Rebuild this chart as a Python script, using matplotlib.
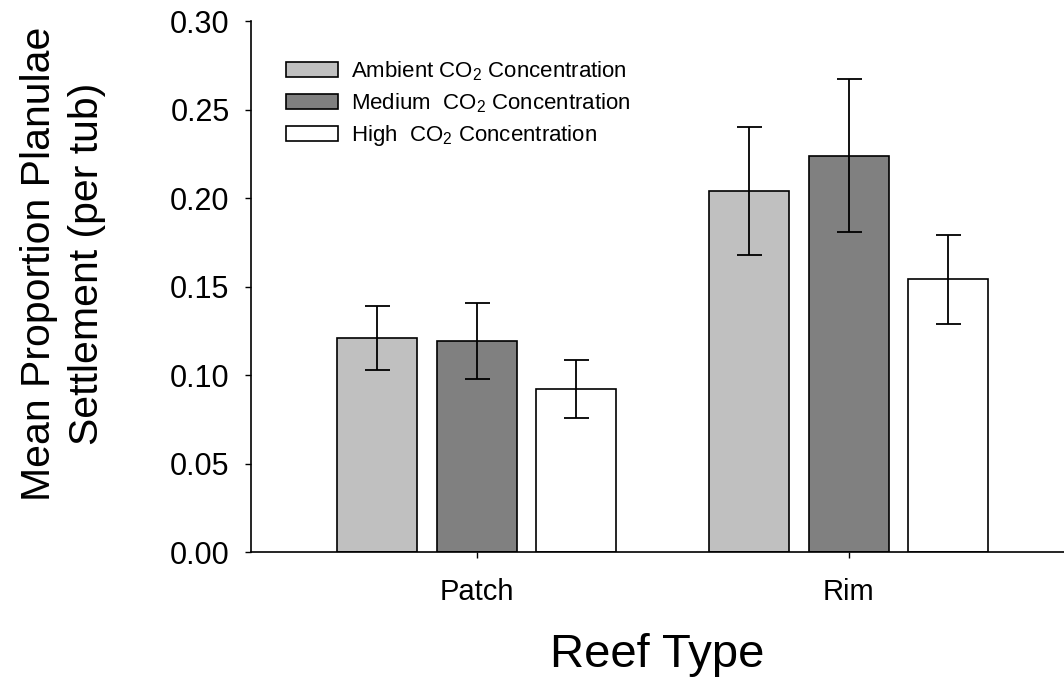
import matplotlib.pyplot as plt
import numpy as np

plt.rcParams['font.family'] = ['Liberation Sans', 'DejaVu Sans']
plt.rcParams['mathtext.fontset'] = 'custom'
plt.rcParams['mathtext.rm'] = 'Liberation Sans'
plt.rcParams['mathtext.default'] = 'regular'

reef_types = ['Patch', 'Rim']
series = ['Ambient CO$_2$ Concentration',
          'Medium  CO$_2$ Concentration',
          'High  CO$_2$ Concentration']
means = {
    'ambient': [0.121, 0.204],
    'medium': [0.119, 0.224],
    'high': [0.092, 0.154],
}
errors = {
    'ambient': [0.018, 0.036],
    'medium': [0.0215, 0.043],
    'high': [0.0163, 0.025],
}
colors = ['#c0c0c0', '#808080', '#ffffff']

fig = plt.figure(figsize=(10.64, 6.81), dpi=100)
ax = fig.add_axes([0.236, 0.1894, 0.764, 0.7797])

x = np.arange(len(reef_types))
step = 0.2675
width = 0.215
for i, key in enumerate(['ambient', 'medium', 'high']):
    ax.bar(x + (i - 1) * step, means[key], width, color=colors[i],
           edgecolor='black', linewidth=1.2, label=series[i], zorder=2)
    ax.errorbar(x + (i - 1) * step, means[key], yerr=errors[key], fmt='none',
                ecolor='black', elinewidth=1.3, capsize=9, capthick=1.3, zorder=3)

ax.set_xlim(-0.606, 1.579)
ax.set_ylim(0, 0.30)
yt = np.arange(0, 0.31, 0.05)
ax.set_yticks(yt)
ax.set_yticklabels([f'{v:.2f}' for v in yt])
ax.set_xticks(x)
ax.set_xticklabels(reef_types)
ax.tick_params(axis='y', direction='out', length=4.5, width=1, labelsize=22, pad=11)
ax.tick_params(axis='x', direction='out', length=4.5, width=1, labelsize=21, pad=14)

for s in ['top', 'right']:
    ax.spines[s].set_visible(False)
for s in ['left', 'bottom']:
    ax.spines[s].set_linewidth(1.2)

ax.set_ylabel('Mean Proportion Planulae\nSettlement (per tub)', fontsize=29.5,
              linespacing=1.35)
ax.yaxis.set_label_coords(-0.178, 0.542)
ax.set_xlabel('Reef Type', fontsize=34, labelpad=20)

ax.legend(loc='upper left', bbox_to_anchor=(0.043, 0.928), frameon=False, fontsize=16,
          handlelength=2.35, handleheight=0.63, labelspacing=0.38, handletextpad=0.55,
          borderpad=0, borderaxespad=0)

fig.savefig('out.png', dpi=100)
